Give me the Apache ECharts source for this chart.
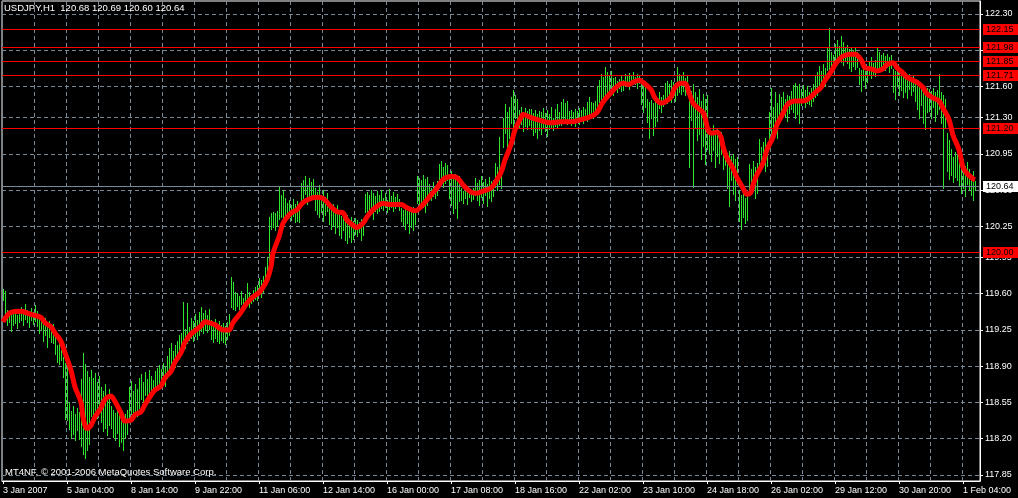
<!DOCTYPE html>
<html><head><meta charset="utf-8">
<script src="https://cdn.jsdelivr.net/npm/echarts@6/dist/echarts.min.js"></script>
<style>html,body{margin:0;padding:0;background:#000;}#c{width:1018px;height:498px;}</style>
</head><body><div id="c"></div>
<script>
const symbolTitle = 'USDJPY,H1  120.68 120.69 120.60 120.64';
const copyright = 'MT4NF, \u00A9 2001-2006 MetaQuotes Software Corp.';
const xTickLabels = ['3 Jan 2007','5 Jan 04:00','8 Jan 14:00','9 Jan 22:00','11 Jan 06:00','12 Jan 14:00','16 Jan 00:00','17 Jan 08:00','18 Jan 16:00','22 Jan 02:00','23 Jan 10:00','24 Jan 18:00','26 Jan 02:00','29 Jan 12:00','30 Jan 20:00','1 Feb 04:00'];
const yTickValues = [117.85,118.20,118.55,118.90,119.25,119.60,119.95,120.25,120.60,120.95,121.30,121.60,121.95,122.30];
const levelLines = [122.15,121.98,121.85,121.71,121.20,120.00];
const lastPrice = 120.64;
const totalSlots = 489;

const highs = [
119.65,119.63,119.44,119.41,119.43,119.40,119.42,119.39,119.44,119.47,
119.45,119.50,119.44,119.41,119.46,119.42,119.49,119.43,119.38,119.36,
119.33,119.37,119.30,119.34,119.29,119.31,119.23,119.10,119.18,119.06,
118.99,118.93,118.96,118.55,118.47,118.52,118.44,118.50,118.46,118.78,
119.03,118.92,118.85,118.80,118.86,118.79,118.83,118.75,118.81,118.70,
118.66,118.73,118.62,118.68,118.52,118.48,118.45,118.50,118.43,118.47,
118.41,118.44,118.48,118.70,118.76,118.66,118.73,118.68,118.79,118.82,
118.75,118.84,118.78,118.86,118.81,118.77,118.85,118.88,118.91,118.87,
118.93,118.89,119.00,119.08,119.12,119.05,119.10,119.14,119.20,119.22,
119.52,119.26,119.51,119.28,119.37,119.34,119.40,119.35,119.42,119.47,
119.41,119.44,119.39,119.45,119.35,119.33,119.36,119.31,119.34,119.30,
119.32,119.29,119.33,119.40,119.76,119.71,119.62,119.61,119.58,119.63,
119.56,119.60,119.70,119.62,119.59,119.64,119.66,119.68,119.75,119.73,
119.77,119.86,119.95,120.34,120.38,120.39,120.38,120.40,120.63,120.55,
120.60,120.52,120.48,120.50,120.46,120.51,120.47,120.49,120.45,120.67,
120.70,120.74,120.65,120.72,120.68,120.71,120.62,120.58,120.65,120.55,
120.60,120.53,120.57,120.48,120.45,120.47,120.43,120.46,120.38,120.35,
120.37,120.33,120.36,120.32,120.34,120.30,120.33,120.31,120.29,120.32,
120.30,120.56,120.58,120.55,120.60,120.57,120.54,120.59,120.55,120.60,
120.52,120.57,120.50,120.61,120.54,120.58,120.53,120.56,120.51,120.43,
120.41,120.42,120.40,120.43,120.41,120.44,120.42,120.74,120.72,120.70,
120.75,120.71,120.73,120.66,120.62,120.68,120.64,120.69,120.85,120.88,
120.82,120.86,120.84,120.75,120.78,120.72,120.76,120.70,120.74,120.62,
120.59,120.63,120.60,120.61,120.58,120.62,120.72,120.67,120.70,120.74,
120.68,120.71,120.66,120.73,120.69,120.70,120.86,120.82,121.11,120.84,
121.30,121.43,121.35,121.40,121.50,121.57,121.52,121.48,121.37,121.40,
121.35,121.39,121.36,121.38,121.38,121.34,121.37,121.33,121.36,121.35,
121.39,121.34,121.37,121.33,121.40,121.30,121.38,121.43,121.35,121.45,
121.48,121.44,121.46,121.36,121.37,121.35,121.38,121.36,121.39,121.37,
121.40,121.38,121.45,121.50,121.45,121.44,121.46,121.60,121.66,121.72,
121.69,121.79,121.74,121.70,121.75,121.68,121.69,121.65,121.67,121.70,
121.66,121.72,121.70,121.73,121.71,121.74,121.69,121.72,121.70,121.65,
121.63,121.64,121.48,121.45,121.47,121.44,121.49,121.46,121.55,121.50,
121.52,121.63,121.65,121.62,121.66,121.64,121.63,121.79,121.72,121.70,
121.74,121.68,121.71,121.59,121.56,121.62,121.55,121.50,121.58,121.46,
121.53,121.48,121.52,121.21,121.17,121.23,121.14,121.19,121.12,121.16,
121.08,121.00,120.96,120.98,120.93,120.95,120.90,120.92,120.60,120.55,
120.58,120.52,120.57,120.85,120.80,120.88,120.82,120.86,121.09,121.02,
121.06,121.10,121.04,121.35,121.59,121.40,121.55,121.44,121.53,121.50,
121.55,121.48,121.52,121.51,121.56,121.61,121.63,121.60,121.62,121.58,
121.61,121.57,121.60,121.55,121.59,121.62,121.70,121.74,121.80,121.75,
121.82,121.78,121.97,122.16,121.93,121.90,122.01,122.05,121.99,122.09,
122.03,121.98,122.00,121.96,121.98,121.95,121.97,121.93,121.78,121.76,
121.77,121.75,121.78,121.85,121.88,121.83,121.86,121.98,121.93,121.90,
121.92,121.89,121.91,121.88,121.90,121.77,121.75,121.78,121.74,121.76,
121.73,121.74,121.70,121.72,121.68,121.71,121.64,121.60,121.63,121.58,
121.61,121.57,121.59,121.58,121.56,121.59,121.55,121.57,121.72,121.55,
121.52,121.48,121.15,121.08,121.00,120.92,120.97,120.94,120.88,120.85,
120.90,120.83,120.87,120.80,120.75,120.78,120.69
];
const lows = [
119.54,119.35,119.30,119.33,119.24,119.30,119.32,119.27,119.33,119.35,
119.30,119.36,119.33,119.28,119.35,119.31,119.34,119.29,119.22,119.25,
119.14,119.20,119.09,119.18,119.13,119.12,119.02,118.94,118.92,118.96,
118.80,118.39,118.38,118.29,118.21,118.25,118.19,118.28,118.20,118.13,
118.05,118.01,118.09,118.15,118.42,118.37,118.48,118.40,118.45,118.36,
118.27,118.30,118.24,118.33,118.30,118.22,118.19,118.26,118.13,118.17,
118.09,118.21,118.25,118.40,118.44,118.38,118.47,118.42,118.50,118.58,
118.55,118.62,118.57,118.64,118.60,118.63,118.66,118.68,118.72,118.74,
118.76,118.71,118.79,118.83,118.86,118.88,118.89,118.95,118.98,119.03,
119.10,119.08,119.12,119.15,119.17,119.14,119.19,119.16,119.20,119.24,
119.22,119.25,119.23,119.26,119.16,119.13,119.17,119.14,119.12,119.15,
119.13,119.11,119.16,119.20,119.47,119.45,119.44,119.48,119.45,119.50,
119.46,119.49,119.52,119.47,119.51,119.53,119.55,119.54,119.60,119.57,
119.62,119.68,119.73,119.90,120.22,120.24,120.21,120.25,120.32,120.34,
120.30,120.36,120.33,120.38,120.31,120.35,120.29,120.30,120.29,120.49,
120.52,120.56,120.47,120.54,120.50,120.53,120.41,120.37,120.34,120.39,
120.30,120.36,120.40,120.27,120.22,120.25,120.19,120.24,120.17,120.14,
120.21,120.12,120.09,120.15,120.10,120.13,120.18,120.16,120.20,120.12,
120.17,120.39,120.35,120.41,120.37,120.32,120.40,120.38,120.40,120.43,
120.41,120.44,120.39,120.42,120.44,120.40,120.43,120.45,120.41,120.30,
120.26,120.22,120.28,120.19,120.24,120.21,120.27,120.48,120.43,120.47,
120.44,120.39,120.46,120.51,120.50,120.54,120.52,120.55,120.66,120.69,
120.63,120.67,120.70,120.52,120.46,120.38,120.43,120.33,120.49,120.50,
120.48,120.52,120.47,120.53,120.49,120.51,120.55,120.50,120.46,120.53,
120.48,120.55,120.45,120.52,120.49,120.54,120.63,120.60,120.66,120.62,
121.02,121.15,120.98,121.10,121.25,121.18,121.30,121.22,121.20,121.24,
121.17,121.22,121.19,121.23,121.19,121.13,121.16,121.10,121.18,121.14,
121.20,121.17,121.12,121.19,121.21,121.18,121.22,121.20,121.23,121.23,
121.25,121.27,121.24,121.26,121.23,121.25,121.22,121.26,121.24,121.27,
121.25,121.28,121.27,121.30,121.32,121.30,121.34,121.40,121.45,121.48,
121.43,121.52,121.55,121.54,121.57,121.52,121.58,121.55,121.59,121.56,
121.57,121.60,121.63,121.58,121.61,121.64,121.62,121.59,121.63,121.43,
121.35,121.40,121.26,121.10,121.30,121.13,121.22,121.27,121.39,121.35,
121.41,121.47,121.44,121.48,121.45,121.50,121.46,121.52,121.55,121.53,
121.56,121.52,121.54,120.82,121.28,120.63,121.20,121.08,121.14,120.90,
121.03,120.85,121.00,120.96,120.88,120.99,120.82,120.93,120.86,120.95,
120.80,120.84,120.62,120.45,120.70,120.56,120.50,120.66,120.30,120.22,
120.34,120.28,120.31,120.55,120.58,120.60,120.52,120.57,120.84,120.80,
120.86,120.78,120.83,121.06,121.12,121.08,121.15,121.10,121.33,121.29,
121.36,121.31,121.27,121.34,121.38,121.35,121.30,121.33,121.25,121.42,
121.45,121.40,121.44,121.43,121.41,121.46,121.50,121.52,121.58,121.61,
121.63,121.60,121.76,121.73,121.79,121.75,121.85,121.82,121.87,121.84,
121.81,121.86,121.83,121.78,121.75,121.80,121.77,121.79,121.62,121.56,
121.66,121.59,121.64,121.71,121.68,121.72,121.70,121.74,121.78,121.75,
121.80,121.76,121.79,121.74,121.78,121.55,121.48,121.60,121.52,121.57,
121.50,121.55,121.49,121.58,121.52,121.56,121.46,121.38,121.30,121.42,
121.25,121.19,121.35,121.36,121.30,121.40,121.27,121.33,121.38,121.25,
120.62,121.20,120.78,120.71,120.75,120.68,120.73,120.70,120.64,120.57,
120.62,120.54,120.66,120.60,120.55,120.50,120.60
];
const maBars = [0,4,9,14,19,21,24,26,29,31,34,36,39,40,42,44,46,49,51,54,56,59,61,64,66,69,71,74,76,79,81,84,86,89,91,94,99,101,103,106,110,113,115,119,122,125,128,130,132,134,135,138,140,143,145,147,150,154,157,160,164,167,170,172,175,177,180,182,185,190,194,199,202,206,210,213,217,220,224,227,230,234,237,240,244,246,249,251,254,256,259,260,264,269,274,279,284,289,294,297,300,304,307,310,313,315,318,320,324,326,329,331,334,336,339,341,343,345,347,350,351,353,355,357,359,360,362,365,367,370,372,374,375,377,380,382,385,387,390,392,394,396,400,404,406,409,411,414,416,419,421,424,426,429,431,434,437,440,442,445,447,450,452,455,457,460,462,465,468,470,473,475,478,480,482,485,486];
const maValues = [119.33,119.42,119.43,119.40,119.37,119.32,119.28,119.22,119.14,119.03,118.86,118.70,118.55,118.41,118.30,118.33,118.41,118.50,118.58,118.61,118.56,118.45,118.37,118.38,118.43,118.46,118.53,118.62,118.67,118.71,118.79,118.85,118.94,119.03,119.13,119.21,119.29,119.33,119.32,119.30,119.25,119.25,119.32,119.42,119.51,119.57,119.61,119.66,119.73,119.86,119.99,120.15,120.28,120.36,120.39,120.41,120.48,120.52,120.53,120.52,120.44,120.39,120.38,120.31,120.26,120.24,120.28,120.34,120.41,120.47,120.46,120.46,120.43,120.40,120.46,120.53,120.62,120.70,120.73,120.72,120.65,120.58,120.57,120.59,120.62,120.67,120.77,120.89,121.04,121.18,121.30,121.33,121.30,121.27,121.25,121.26,121.26,121.28,121.31,121.35,121.45,121.54,121.60,121.63,121.62,121.64,121.66,121.64,121.57,121.49,121.44,121.45,121.50,121.59,121.63,121.63,121.54,121.44,121.40,121.35,121.30,121.16,121.15,121.16,121.11,121.02,120.91,120.81,120.72,120.62,120.56,120.58,120.65,120.75,120.86,120.99,121.11,121.23,121.34,121.42,121.45,121.46,121.46,121.50,121.54,121.59,121.66,121.74,121.81,121.88,121.90,121.91,121.91,121.86,121.78,121.77,121.75,121.77,121.81,121.83,121.78,121.73,121.69,121.66,121.64,121.59,121.53,121.49,121.46,121.39,121.28,121.13,120.99,120.82,120.76,120.71,120.70];

const categories = Array.from({length: totalSlots}, (_, i) => String(i));
const barData = highs.map((h, i) => [i, h, lows[i]]);
const maData = maBars.map((b, k) => [b, maValues[k]]);
const levelData = levelLines.map(v => [0, v, 0]);
const priceData = [[0, lastPrice, 1]];

const FONT = 'Liberation Sans';
const GRIDC = '#778899';
const BAR_GREEN = '#2ee62e';

// horizontal line across plot + value box on the price axis
function levelRender(params, api) {
  const cs = params.coordSys;
  const v = api.value(1);
  const isPrice = api.value(2) === 1;
  const y = Math.round(api.coord([0, v])[1]) + 0.5;
  const lineColor = isPrice ? GRIDC : '#ff0000';
  const boxColor = isPrice ? '#ffffff' : '#ff0000';
  const bx = cs.x + cs.width + 3;
  return {
    type: 'group',
    children: [
      {type: 'line', shape: {x1: cs.x, y1: y, x2: cs.x + cs.width, y2: y}, style: {stroke: lineColor, lineWidth: 1}},
      {type: 'rect', shape: {x: bx, y: Math.round(y) - 6, width: 35, height: 11}, style: {fill: boxColor}},
      {type: 'text', x: bx + 3, y: Math.round(y), style: {text: v.toFixed(2), fill: '#000', font: '9px ' + FONT, textVerticalAlign: 'middle', textAlign: 'left'}}
    ]
  };
}

const chart = echarts.init(document.getElementById('c'), null, {renderer: 'canvas'});
chart.setOption({
  backgroundColor: '#000',
  animation: false,
  title: [
    {text: symbolTitle, left: 4, top: 3, padding: 0, textStyle: {color: '#fff', fontSize: 9.5, fontWeight: 'normal', fontFamily: FONT}},
    {text: copyright, left: 5, top: 467, padding: 0, textStyle: {color: '#fff', fontSize: 9.5, fontWeight: 'normal', fontFamily: FONT}}
  ],
  grid: {left: 2, right: 38, top: 1, bottom: 17, show: true, borderColor: '#fff', borderWidth: 1, backgroundColor: 'transparent'},
  xAxis: {
    type: 'category', data: categories, boundaryGap: true,
    axisLine: {show: true, lineStyle: {color: '#fff'}},
    axisTick: {show: true, interval: 31, alignWithLabel: true, length: 3, lineStyle: {color: '#fff'}},
    axisLabel: {interval: 31, color: '#fff', fontSize: 9, fontFamily: FONT, align: 'left', margin: 5,
      formatter: (v, idx) => xTickLabels[Math.round(idx / 32)] || ''},
    splitLine: {show: true, interval: 15, lineStyle: {color: GRIDC, type: [4, 3], width: 1}}
  },
  yAxis: {
    type: 'value', position: 'right', min: 117.792, max: 122.425, scale: true,
    axisLine: {show: true, lineStyle: {color: '#fff'}},
    axisTick: {show: true, length: 3, lineStyle: {color: '#fff'}, customValues: yTickValues},
    axisLabel: {color: '#fff', fontSize: 9, fontFamily: FONT, margin: 5, customValues: yTickValues,
      formatter: v => v.toFixed(2)},
    splitLine: {show: true, lineStyle: {color: GRIDC, type: [4, 3], width: 1}}
  },
  series: [
    {
      type: 'custom', name: 'bars', z: 2, clip: false,
      encode: {x: 0, y: [1, 2]},
      itemStyle: {color: BAR_GREEN},
      data: barData,
      renderItem: function (params, api) {
        const i = api.value(0);
        const a = api.coord([i, api.value(1)]);
        const b = api.coord([i, api.value(2)]);
        const y1 = Math.round(a[1]);
        const y2 = Math.round(b[1]);
        return {type: 'rect', shape: {x: Math.round(a[0]), y: y1, width: 1, height: Math.max(1, y2 - y1 + 1)},
          style: {fill: BAR_GREEN}};
      }
    },
    {
      type: 'custom', name: 'levels', z: 3, clip: false,
      encode: {x: 0, y: 1},
      data: levelData,
      renderItem: levelRender
    },
    {
      type: 'custom', name: 'lastPrice', z: 3, clip: false,
      encode: {x: 0, y: 1},
      data: priceData,
      renderItem: levelRender
    },
    {
      type: 'line', name: 'ma', z: 4, data: maData, smooth: 0.35, showSymbol: false, symbol: 'none',
      lineStyle: {color: '#ff0000', width: 5}
    }
  ]
});
</script>
</body></html>
